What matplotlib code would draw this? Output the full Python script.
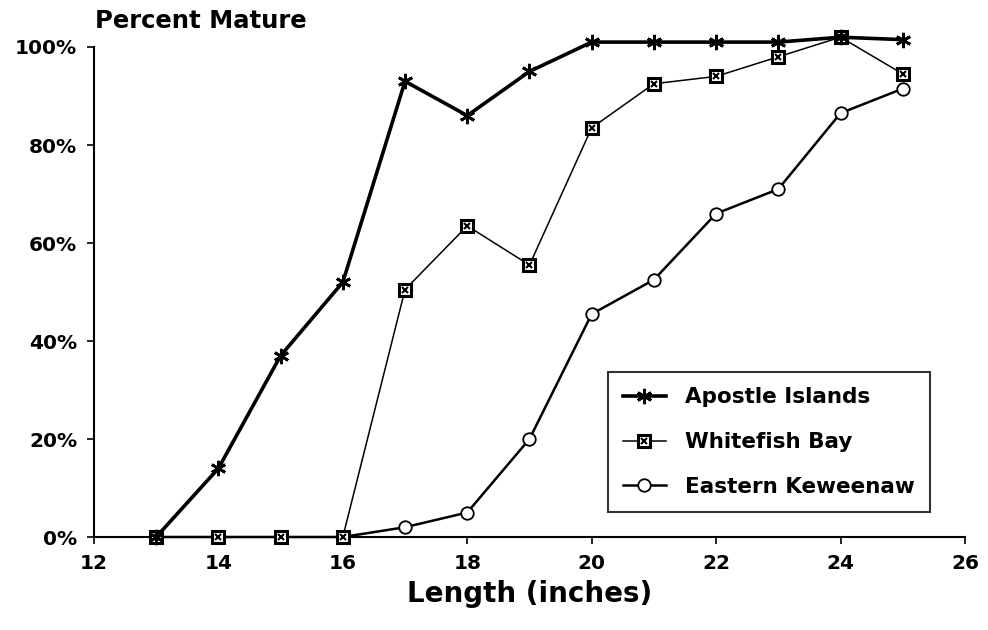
import matplotlib
matplotlib.use("Agg")
import matplotlib.pyplot as plt
from matplotlib.legend_handler import HandlerTuple

# lengths in inches
lengths = [13, 14, 15, 16, 17, 18, 19, 20, 21, 22, 23, 24, 25]

# percent mature
apostle = [0, 14, 37, 52, 93, 86, 95, 101, 101, 101, 101, 102, 101.5]
whitefish = [0, 0, 0, 0, 50.5, 63.5, 55.5, 83.5, 92.5, 94, 98, 102, 94.5]
keweenaw = [0, 0, 0, 0, 2, 5, 20, 45.5, 52.5, 66, 71, 86.5, 91.5]

series_names = ["Apostle Islands", "Whitefish Bay", "Eastern Keweenaw"]
xticks = [12, 14, 16, 18, 20, 22, 24, 26]
yticks = [0, 20, 40, 60, 80, 100]

plt.rcParams['font.family'] = ['DejaVu Sans']
plt.rcParams['font.weight'] = 'bold'

fig = plt.figure(figsize=(9.88, 6.3), dpi=100)
ax = fig.add_axes([0.0951, 0.1476, 0.8816, 0.7778])

# Apostle Islands - thick line, asterisk markers
l1, = ax.plot(lengths, apostle, color='black', lw=2.6, marker=(6, 2, 0),
              markersize=11, markeredgewidth=2, clip_on=False, zorder=4)

# Whitefish Bay - thin line, crossed squares
l2, = ax.plot(lengths, whitefish, color='black', lw=1.1, marker='s',
              markersize=8, markerfacecolor='white', markeredgewidth=2.2,
              clip_on=False, zorder=3)
l2x, = ax.plot(lengths, whitefish, color='black', lw=0, marker='x',
               markersize=4.5, markeredgewidth=1.5, clip_on=False, zorder=3)

# Eastern Keweenaw - open circles
l3, = ax.plot(lengths, keweenaw, color='black', lw=1.8, marker='o',
              markersize=9, markerfacecolor='white', markeredgewidth=1.3,
              clip_on=False, zorder=2)

ax.set_xlim(12, 26)
ax.set_ylim(0, 100)
ax.set_xticks(xticks)
ax.set_xticklabels([str(t) for t in xticks], fontsize=14.5, fontweight='bold')
ax.set_yticks(yticks)
ax.set_yticklabels([f"{t}%" for t in yticks], fontsize=14.5, fontweight='bold')
ax.tick_params(axis='both', direction='out', length=5, width=1.2, pad=7)

for side in ['top', 'right']:
    ax.spines[side].set_visible(False)
for side in ['left', 'bottom']:
    ax.spines[side].set_linewidth(1.5)

ax.set_xlabel("Length (inches)", fontsize=20, fontweight='bold', labelpad=5)
fig.text(0.096, 0.967, "Percent Mature", fontsize=17.5, fontweight='bold',
         ha='left', va='center')

leg = ax.legend([l1, (l2, l2x), l3], series_names,
                handler_map={tuple: HandlerTuple(ndivide=1, pad=0)},
                loc='lower right', bbox_to_anchor=(0.96, 0.051),
                frameon=True, fancybox=False, edgecolor='black',
                prop={'size': 15.5, 'weight': 'bold'},
                handlelength=2.0, handletextpad=0.9, labelspacing=1.15,
                borderpad=0.7, borderaxespad=0)
leg.get_frame().set_linewidth(1.5)

plt.savefig('out.png', dpi=100)
